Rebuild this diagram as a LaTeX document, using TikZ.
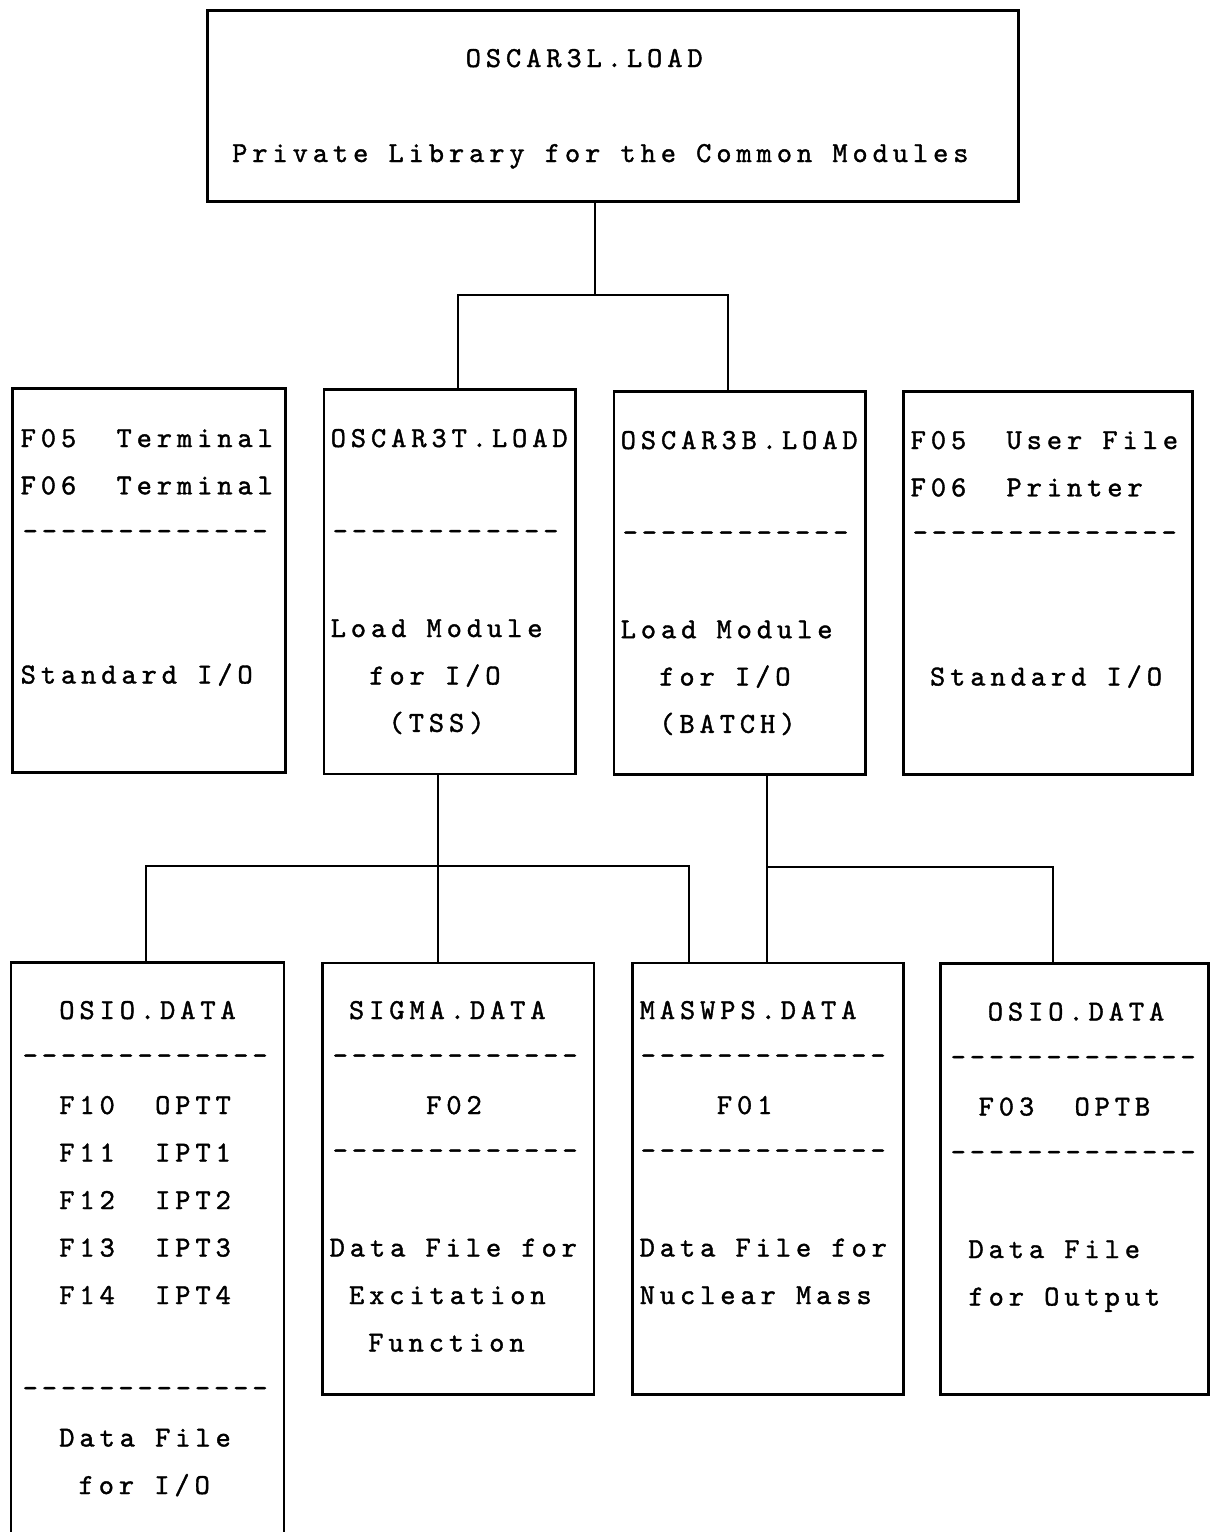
\documentclass[tikz,border=0pt]{standalone}
\usepackage{fontspec}
\newfontfamily\tw{lmmono10-regular.otf}[LetterSpace=17,FakeBold=1.3]
\newfontfamily\twd{lmmono10-regular.otf}[LetterSpace=13.5,FakeBold=1.3]
\tikzset{
  box/.style={draw=black, line width=2.6pt, inner sep=0pt, anchor=north west},
  wire/.style={draw=black, line width=2.6pt},
  txt/.style={anchor=base west, inner sep=0pt, font=\tw\fontsize{29}{31}\selectfont, text=black},
  dsh/.style={anchor=base west, inner sep=0pt, font=\twd\fontsize{29}{31}\selectfont, text=black}
}
\begin{document}
\begin{tikzpicture}[x=1pt,y=-1pt]
\useasboundingbox[fill=white] (0,0) rectangle (1211,1532);
% boxes
\node[box, minimum width=811pt, minimum height=191pt] (top) at (206,9) {};
\node[box, minimum width=273pt, minimum height=384pt] (A) at (11,387) {};
\node[box, minimum width=251.5pt, minimum height=384.5pt] (B) at (322.5,388) {};
\node[box, minimum width=251.5pt, minimum height=383pt] (C) at (612.5,390) {};
\node[box, minimum width=289pt, minimum height=383pt] (D) at (902,390) {};
\node[box, minimum width=273pt, minimum height=620pt] (E) at (9.5,961) {};
\node[box, minimum width=271.5pt, minimum height=431.5pt] (F) at (321,961.5) {};
\node[box, minimum width=271pt, minimum height=431.5pt] (G) at (631,961.5) {};
\node[box, minimum width=268pt, minimum height=431pt] (H) at (939,962) {};
% connector coordinates
\coordinate (t1) at (595,295);
\coordinate (h1L) at (458,295);
\coordinate (h1R) at (728,295);
\coordinate (v2) at (438,866);
\coordinate (h2L) at (146,866);
\coordinate (h2R) at (689,866);
\coordinate (h3L) at (767,867);
\coordinate (h3R) at (1053,867);
% connectors
\draw[wire] (top.south -| t1) -- (t1);
\draw[wire] (B.north -| h1L) |- (h1R) -- (C.north -| h1R);
\draw[wire] (B.south -| v2) -- (F.north -| v2);
\draw[wire] (E.north -| h2L) |- (h2R) -- (G.north -| h2R);
\draw[wire] (C.south -| h3L) -- (G.north -| h3L);
\draw[wire] (h3L) -- (h3R) -- (H.north -| h3R);
% top box text
\node[txt] (t0) at (465.5,67) {OSCAR3L.LOAD};
\node[txt] (t1t) at (232,162) {Private Library for the Common Modules};
% box A
\node[txt] (a0) at (20.5,447) {F05\ \ Terminal};
\node[txt] (a1) at (20.5,494.3) {F06\ \ Terminal};
\node[dsh] (a2) at (22.5,540) {-------------};
\node[txt] (a5) at (20.5,683.5) {Standard I/O};
% box B
\node[txt] (b0) at (330.5,447) {OSCAR3T.LOAD};
\node[dsh] (b2) at (332.5,540) {------------};
\node[txt] (b4) at (330.5,637) {Load Module};
\node[txt] (b5) at (369.1,684.5) {for I/O};
\node[txt] (b6) at (388.4,731.8) {(TSS)};
% box C
\node[txt] (c0) at (620.5,449) {OSCAR3B.LOAD};
\node[dsh] (c2) at (622.5,541.5) {------------};
\node[txt] (c4) at (620.5,638.2) {Load Module};
\node[txt] (c5) at (659.1,685.5) {for I/O};
\node[txt] (c6) at (659.1,732.8) {(BATCH)};
% box D
\node[txt] (d0) at (910.5,449) {F05\ \ User File};
\node[txt] (d1) at (910.5,496.3) {F06\ \ Printer};
\node[dsh] (d2) at (912.5,541.5) {--------------};
\node[txt] (d5) at (929.8,685.5) {Standard I/O};
% box E
\node[txt] (e0) at (59.1,1019) {OSIO.DATA};
\node[dsh] (e1) at (22.5,1064.5) {-------------};
\node[txt] (e2) at (59.1,1114) {F10\ \ OPTT};
\node[txt] (e3) at (59.1,1161.5) {F11\ \ IPT1};
\node[txt] (e4) at (59.1,1209) {F12\ \ IPT2};
\node[txt] (e5) at (59.1,1256.5) {F13\ \ IPT3};
\node[txt] (e6) at (59.1,1304) {F14\ \ IPT4};
\node[dsh] (e8) at (22.5,1397) {-------------};
\node[txt] (e9) at (59.1,1446.5) {Data File};
\node[txt] (e10) at (78.4,1494) {for I/O};
% box F
\node[txt] (f0) at (348.8,1019) {SIGMA.DATA};
\node[dsh] (f1) at (332.5,1064.5) {-------------};
\node[txt] (f2) at (426,1114) {F02};
\node[dsh] (f3) at (332.5,1159.5) {-------------};
\node[txt] (f5) at (329.5,1256.5) {Data File for};
\node[txt] (f6) at (348.8,1304) {Excitation};
\node[txt] (f7) at (368.1,1351.5) {Function};
% box G
\node[txt] (g0) at (639.5,1019) {MASWPS.DATA};
\node[dsh] (g1) at (640.5,1064.5) {-------------};
\node[txt] (g2) at (716.7,1114) {F01};
\node[dsh] (g3) at (640.5,1159.5) {-------------};
\node[txt] (g5) at (639.5,1256.5) {Data File for};
\node[txt] (g6) at (639.5,1304) {Nuclear Mass};
% box H
\node[txt] (h0) at (987.6,1020.5) {OSIO.DATA};
\node[dsh] (h1) at (950.5,1066) {-------------};
\node[txt] (h2) at (978.5,1115.5) {F03\ \ OPTB};
\node[dsh] (h3) at (950.5,1161) {-------------};
\node[txt] (h5) at (968.3,1258) {Data File};
\node[txt] (h6) at (968.3,1305.5) {for Output};
\end{tikzpicture}
\end{document}
